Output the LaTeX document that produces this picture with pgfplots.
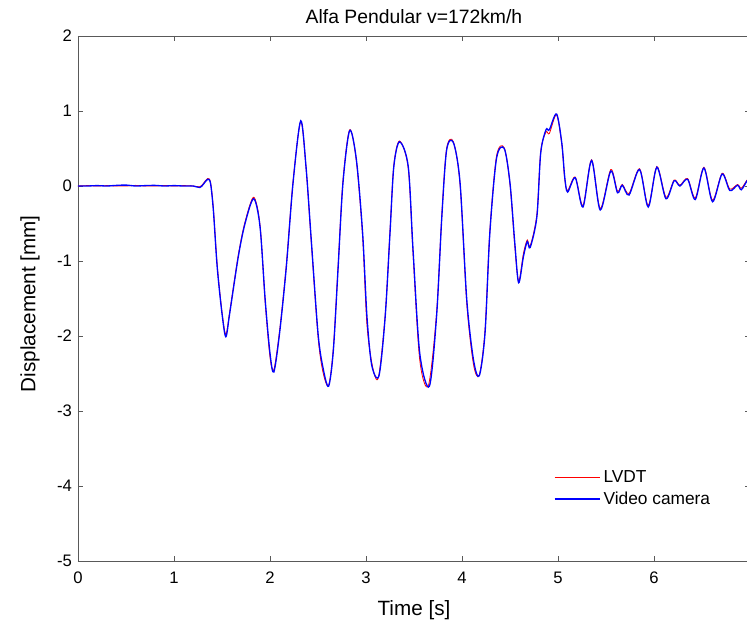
\documentclass[border=0pt]{standalone}
\usepackage{fontspec}
\setmainfont{Liberation Sans}
\usepackage{pgfplots}
\usepackage{pgfplotstable}
\pgfplotsset{compat=1.18}
\pgfplotstableread{
t v
0 0
0.1 0.0
0.2 0.005
0.3 0.0
0.4 0.008
0.5 0.012
0.6 0.0
0.7 0.005
0.8 0.008
0.9 0.0
1.0 0.005
1.1 0.0
1.2 0.0
1.27 -0.02
1.31 0.03
1.35 0.09
1.38 0.04
1.41 -0.32
1.45 -1.08
1.50 -1.70
1.54 -2.01
1.58 -1.70
1.67 -0.94
1.74 -0.50
1.83 -0.17
1.896 -0.54
1.95 -1.52
2.00 -2.23
2.04 -2.48
2.10 -1.96
2.17 -1.08
2.24 0.04
2.32 0.87
2.375 0.26
2.43 -0.72
2.50 -1.96
2.55 -2.41
2.61 -2.67
2.66 -2.19
2.71 -1.08
2.76 0.04
2.83 0.74
2.90 0.35
2.965 -0.63
3.01 -1.74
3.06 -2.39
3.135 -2.53
3.20 -1.74
3.25 -0.63
3.29 0.26
3.35 0.59
3.44 0.26
3.49 -0.85
3.56 -2.23
3.66 -2.67
3.735 -1.74
3.79 -0.41
3.84 0.48
3.91 0.58
3.98 0.04
4.05 -1.52
4.12 -2.32
4.18 -2.53
4.24 -1.96
4.29 -0.63
4.36 0.37
4.44 0.50
4.50 0.04
4.55 -0.76
4.59 -1.29
4.64 -0.94
4.68 -0.74
4.71 -0.82
4.78 -0.41
4.82 0.44
4.875 0.75
4.91 0.75
4.985 0.96
5.04 0.57
5.07 0.12
5.10 -0.08
5.18 0.11
5.26 -0.28
5.35 0.34
5.44 -0.32
5.55 0.20
5.62 -0.09
5.67 0.01
5.74 -0.12
5.85 0.22
5.94 -0.28
6.03 0.25
6.125 -0.17
6.21 0.07
6.27 0.0
6.35 0.09
6.43 -0.18
6.52 0.24
6.61 -0.21
6.71 0.16
6.79 -0.06
6.87 0.01
6.91 -0.05
6.97 0.07
7.0 0.08
}\videodata
\pgfplotstableread{
t v
0 0
0.1 0.005
0.2 0.0
0.3 0.005
0.4 0.0
0.5 0.0
0.6 0.008
0.7 0.0
0.8 0.0
0.9 0.006
1.0 0.0
1.1 0.005
1.2 0.0
1.27 -0.01
1.31 0.04
1.35 0.10
1.38 0.05
1.41 -0.30
1.45 -1.05
1.50 -1.68
1.54 -1.98
1.58 -1.68
1.67 -0.92
1.74 -0.48
1.83 -0.15
1.896 -0.52
1.95 -1.55
2.00 -2.28
2.04 -2.45
2.10 -1.93
2.17 -1.05
2.24 0.06
2.32 0.86
2.375 0.25
2.43 -0.75
2.50 -2.00
2.55 -2.47
2.61 -2.66
2.66 -2.16
2.71 -1.05
2.76 0.07
2.83 0.75
2.90 0.33
2.965 -0.68
3.01 -1.85
3.07 -2.42
3.13 -2.55
3.20 -1.72
3.25 -0.60
3.29 0.28
3.35 0.60
3.44 0.24
3.49 -0.90
3.56 -2.32
3.65 -2.66
3.735 -1.70
3.79 -0.38
3.84 0.50
3.91 0.59
3.98 0.02
4.05 -1.57
4.12 -2.38
4.18 -2.52
4.24 -1.92
4.29 -0.60
4.36 0.40
4.44 0.51
4.50 0.02
4.55 -0.80
4.59 -1.27
4.64 -0.90
4.68 -0.72
4.71 -0.80
4.78 -0.38
4.82 0.46
4.875 0.72
4.91 0.70
4.985 0.95
5.04 0.55
5.07 0.10
5.10 -0.06
5.18 0.12
5.26 -0.26
5.35 0.35
5.44 -0.30
5.55 0.22
5.62 -0.07
5.67 0.02
5.74 -0.10
5.85 0.23
5.94 -0.26
6.03 0.26
6.125 -0.15
6.21 0.08
6.27 0.01
6.35 0.10
6.43 -0.16
6.52 0.25
6.61 -0.19
6.71 0.17
6.79 -0.04
6.87 0.02
6.91 -0.03
6.97 0.08
7.0 0.09
}\lvdtdata
\begin{document}
\begin{tikzpicture}
\begin{axis}[
  at={(0,0)}, anchor=south west,
  scale only axis, width=504pt, height=393.75pt,
  xmin=0, xmax=7, ymin=-5, ymax=2,
  xtick={0,1,2,3,4,5,6}, ytick={-5,-4,-3,-2,-1,0,1,2},
  tick align=inside, major tick length=4pt,
  axis line style={black!65, line width=0.6pt},
  tick style={black!65, line width=0.5pt},
  tick label style={font=\fontsize{12.5}{14}\selectfont},
  /pgf/number format/assume math mode=true,
  xticklabel style={yshift=-4.5pt},
  yticklabel style={xshift=-1pt},
  xlabel={Time [s]}, ylabel={Displacement [mm]},
  label style={font=\fontsize{15.5}{18}\selectfont},
  xlabel style={at={(axis description cs:0.5,-0.1029)}, anchor=base},
  ylabel style={at={(axis description cs:-0.0714,0.49)}, anchor=center},
  every axis title shift=0pt,
  title={Alfa Pendular v=172km/h},
  title style={font=\fontsize{14.5}{16}\selectfont, at={(axis description cs:0.5,1.0241)}, anchor=base},
  legend style={draw=none, fill=none, at={(axis description cs:0.702,0.183)}, anchor=north west,
    font=\fontsize{13}{15}\selectfont, row sep=1.5pt},
  legend cell align=left,
  legend image code/.code={\draw[#1] (0cm,0cm) -- (1.2cm,0cm);},
]
\addplot[red, line width=0.6pt, smooth] table {\lvdtdata};
\addlegendentry{LVDT}
\addplot[blue, line width=1pt, smooth] table {\videodata};
\addlegendentry{Video camera}
\end{axis}
\pgfresetboundingbox
\path[use as bounding box] (-58.5pt,-45pt) rectangle (501.75pt,420.75pt);
\end{tikzpicture}
\end{document}
